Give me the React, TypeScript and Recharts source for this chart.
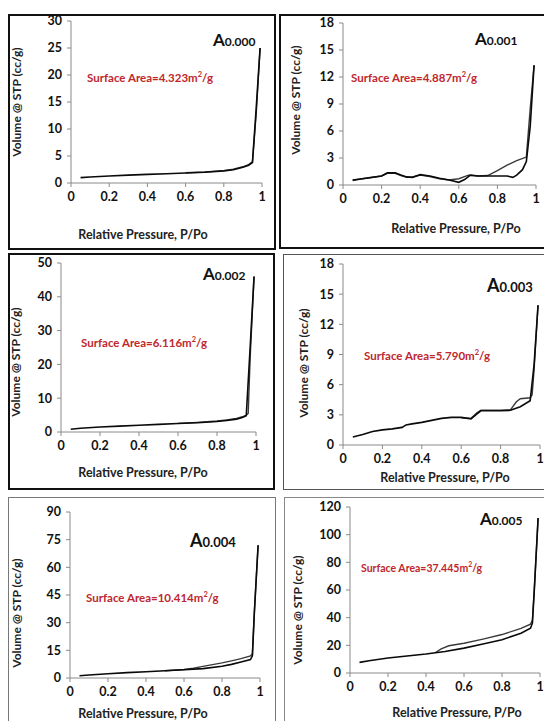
import React from 'react';
import { LineChart, Line, XAxis, YAxis } from 'recharts';

// ---------- data ----------
const xTicks = [0, 0.2, 0.4, 0.6, 0.8, 1];

const a000AdsX = [0.05, 0.1, 0.2, 0.3, 0.4, 0.5, 0.6, 0.7, 0.8, 0.85, 0.9, 0.93, 0.95, 0.97, 0.99];
const a000AdsY = [1.0, 1.1, 1.3, 1.45, 1.6, 1.7, 1.85, 2.0, 2.25, 2.45, 2.9, 3.3, 3.8, 14, 25];
const a000DesX = [0.6, 0.7, 0.8, 0.85, 0.9, 0.93, 0.95, 0.97, 0.99];
const a000DesY = [1.9, 2.05, 2.3, 2.55, 3.0, 3.4, 3.9, 13, 25];
const a000Ticks = [0, 5, 10, 15, 20, 25, 30];

const a001AdsX = [0.05, 0.1, 0.15, 0.2, 0.23, 0.27, 0.3, 0.33, 0.36, 0.4, 0.45, 0.5, 0.55, 0.6, 0.63, 0.66, 0.7, 0.75, 0.8, 0.85, 0.88, 0.9, 0.93, 0.95, 0.97, 0.99];
const a001AdsY = [0.55, 0.7, 0.85, 1.0, 1.35, 1.35, 1.1, 0.9, 0.85, 1.15, 1.0, 0.75, 0.55, 0.3, 0.6, 1.1, 1.0, 1.0, 1.0, 1.0, 0.85, 1.1, 1.7, 2.6, 6.5, 13.3];
const a001DesX = [0.05, 0.1, 0.15, 0.2, 0.23, 0.27, 0.3, 0.33, 0.36, 0.4, 0.45, 0.5, 0.55, 0.6, 0.65, 0.7, 0.75, 0.8, 0.85, 0.9, 0.95, 0.97, 0.99];
const a001DesY = [0.5, 0.7, 0.85, 1.0, 1.3, 1.3, 1.05, 0.85, 0.9, 1.1, 0.95, 0.7, 0.55, 0.7, 1.1, 1.0, 1.05, 1.6, 2.2, 2.7, 3.1, 8.5, 13.3];
const a001Ticks = [0, 3, 6, 9, 12, 15, 18];

const a002AdsX = [0.05, 0.1, 0.2, 0.3, 0.4, 0.5, 0.6, 0.7, 0.8, 0.85, 0.9, 0.93, 0.95, 0.97, 0.99];
const a002AdsY = [0.8, 1.1, 1.5, 1.75, 2.0, 2.25, 2.5, 2.75, 3.1, 3.4, 3.8, 4.3, 4.8, 25, 46];
const a002DesX = [0.6, 0.7, 0.8, 0.85, 0.9, 0.93, 0.95, 0.96, 0.97, 0.99];
const a002DesY = [2.55, 2.85, 3.25, 3.6, 4.0, 4.5, 5.0, 5.5, 22, 46];
const a002Ticks = [0, 10, 20, 30, 40, 50];

const a003AdsX = [0.05, 0.1, 0.15, 0.2, 0.25, 0.3, 0.32, 0.35, 0.4, 0.45, 0.5, 0.55, 0.6, 0.65, 0.68, 0.7, 0.75, 0.8, 0.85, 0.9, 0.95, 0.97, 0.99];
const a003AdsY = [0.8, 1.05, 1.35, 1.5, 1.6, 1.75, 2.0, 2.1, 2.25, 2.45, 2.65, 2.75, 2.75, 2.6, 3.1, 3.4, 3.4, 3.4, 3.45, 3.8, 4.4, 8.0, 13.9];
const a003DesX = [0.6, 0.65, 0.68, 0.7, 0.75, 0.8, 0.85, 0.88, 0.9, 0.95, 0.96, 0.97, 0.99];
const a003DesY = [2.7, 2.65, 3.2, 3.45, 3.45, 3.45, 3.5, 4.3, 4.6, 4.7, 5.0, 7.5, 13.9];
const a003Ticks = [0, 3, 6, 9, 12, 15, 18];

const a004AdsX = [0.05, 0.1, 0.2, 0.3, 0.4, 0.5, 0.6, 0.7, 0.8, 0.85, 0.9, 0.95, 0.96, 0.97, 0.99];
const a004AdsY = [1.2, 1.6, 2.3, 2.9, 3.4, 3.9, 4.5, 5.1, 6.4, 7.4, 8.7, 10, 12, 35, 72];
const a004DesX = [0.5, 0.6, 0.65, 0.7, 0.8, 0.85, 0.9, 0.95, 0.96, 0.97, 0.99];
const a004DesY = [3.9, 4.6, 5.3, 6.3, 8.2, 9.3, 10.5, 12, 13, 35, 72];
const a004Ticks = [0, 15, 30, 45, 60, 75, 90];

const a005AdsX = [0.05, 0.1, 0.2, 0.3, 0.4, 0.45, 0.5, 0.6, 0.7, 0.8, 0.9, 0.95, 0.96, 0.97, 0.99];
const a005AdsY = [7.7, 8.8, 10.8, 12.3, 13.7, 14.6, 15.6, 18, 20.9, 24, 28.8, 32.4, 36, 60, 112];
const a005DesX = [0.45, 0.48, 0.52, 0.6, 0.7, 0.8, 0.9, 0.95, 0.96, 0.97, 0.99];
const a005DesY = [14.8, 17.5, 19.7, 21.5, 24.5, 27.8, 32.2, 35.3, 38, 60, 112];
const a005Ticks = [0, 20, 40, 60, 80, 100, 120];

const sampleNames = ['0.000', '0.001', '0.002', '0.003', '0.004', '0.005'];
const surfaceAreas = ['4.323', '4.887', '6.116', '5.790', '10.414', '37.445'];
const xTitle = 'Relative Pressure, P/Po';
const yTitle = 'Volume @ STP (cc/g)';

const zip = (xs: number[], ys: number[]) => xs.map((x, i) => ({ x, y: ys[i] }));

// ---------- layout ----------
type Panel = {
  name: string; area: string;
  ads: { x: number; y: number }[]; des: { x: number; y: number }[];
  yTicks: number[];
  x0: number; x1: number; yTop: number; y0: number;
  xt: [number, number]; yt: [number, number];
  at: [number, number]; st: [number, number];
  aSize: number; sSize: number;
};

const panels: Panel[] = [
  { name: sampleNames[0], area: surfaceAreas[0], ads: zip(a000AdsX, a000AdsY), des: zip(a000DesX, a000DesY), yTicks: a000Ticks,
    x0: 71, x1: 262, yTop: 21, y0: 183, xt: [143, 235], yt: [17, 102], at: [213, 39], st: [87, 77], aSize: 15, sSize: 11.5 },
  { name: sampleNames[1], area: surfaceAreas[1], ads: zip(a001AdsX, a001AdsY), des: zip(a001DesX, a001DesY), yTicks: a001Ticks,
    x0: 343, x1: 536, yTop: 23, y0: 185, xt: [456, 229], yt: [296, 100], at: [475, 38], st: [351, 77], aSize: 15, sSize: 11.5 },
  { name: sampleNames[2], area: surfaceAreas[2], ads: zip(a002AdsX, a002AdsY), des: zip(a002DesX, a002DesY), yTicks: a002Ticks,
    x0: 61, x1: 256, yTop: 263, y0: 432, xt: [143, 473], yt: [16, 362], at: [203, 273], st: [81, 342], aSize: 15, sSize: 11.5 },
  { name: sampleNames[3], area: surfaceAreas[3], ads: zip(a003AdsX, a003AdsY), des: zip(a003DesX, a003DesY), yTicks: a003Ticks,
    x0: 343, x1: 540, yTop: 264, y0: 445, xt: [445, 478], yt: [304, 363], at: [487, 285], st: [364, 355], aSize: 16, sSize: 11.5 },
  { name: sampleNames[4], area: surfaceAreas[4], ads: zip(a004AdsX, a004AdsY), des: zip(a004DesX, a004DesY), yTicks: a004Ticks,
    x0: 70, x1: 260, yTop: 512, y0: 678, xt: [143, 714], yt: [17, 613], at: [190, 540], st: [86, 597], aSize: 16, sSize: 11.5 },
  { name: sampleNames[5], area: surfaceAreas[5], ads: zip(a005AdsX, a005AdsY), des: zip(a005DesX, a005DesY), yTicks: a005Ticks,
    x0: 350, x1: 540, yTop: 507, y0: 673, xt: [457, 713], yt: [298, 610], at: [480, 518], st: [361, 567], aSize: 15, sSize: 10.5 },
];

const FONT = 'Lato, "Open Sans", sans-serif';
const AX = '#8a8a8a';
const W = 40; // y-axis width
const H = 30; // x-axis height
const M = 12; // margin

function Chart({ p }: { p: Panel }) {
  const width = p.x1 - p.x0 + W + M * 2;
  const height = p.y0 - p.yTop + H + M * 2;
  const tick = { fill: '#111', fontSize: 12.5, fontWeight: 700, fontFamily: FONT };
  return (
    <div style={{ position: 'absolute', left: p.x0 - W - M, top: p.yTop - M }}>
      <LineChart width={width} height={height} data={p.ads} margin={{ top: M, right: M, bottom: M, left: M }}>
        <XAxis type="number" dataKey="x" domain={[0, 1]} ticks={xTicks} interval={0}
          tick={tick} tickSize={4} tickMargin={5} axisLine={{ stroke: AX }} tickLine={{ stroke: AX }}
          height={H} tickFormatter={(v: number) => String(v)} allowDataOverflow />
        <YAxis type="number" domain={[0, p.yTicks[p.yTicks.length - 1]]} ticks={p.yTicks} interval={0}
          tick={tick} tickSize={4} tickMargin={5} axisLine={{ stroke: AX }} tickLine={{ stroke: AX }}
          width={W} allowDataOverflow />
        <Line data={p.des} dataKey="y" type="linear" stroke="#3a3a3a" strokeWidth={1.4} dot={false} isAnimationActive={false} />
        <Line data={p.ads} dataKey="y" type="linear" stroke="#0a0a0a" strokeWidth={1.6} dot={false} isAnimationActive={false} />
      </LineChart>
    </div>
  );
}

function Texts({ p }: { p: Panel }) {
  return (
    <>
      <div style={{ position: 'absolute', left: p.xt[0], top: p.xt[1], transform: 'translate(-50%,-50%)',
        fontFamily: FONT, fontWeight: 700, fontSize: 12.5, color: '#222', whiteSpace: 'nowrap', lineHeight: 1 }}>{xTitle}</div>
      <div style={{ position: 'absolute', left: p.yt[0], top: p.yt[1], transform: 'translate(-50%,-50%) rotate(-90deg)',
        fontFamily: FONT, fontWeight: 700, fontSize: 12, color: '#222', whiteSpace: 'nowrap', lineHeight: 1 }}>{yTitle}</div>
      <div style={{ position: 'absolute', left: p.at[0], top: p.at[1], transform: 'translateY(-50%)',
        fontFamily: FONT, fontWeight: 700, color: '#111', whiteSpace: 'nowrap', lineHeight: 1 }}>
        <span style={{ fontSize: p.aSize + 2 }}>A</span><span style={{ fontSize: p.aSize - 3 }}>{p.name}</span>
      </div>
      <div style={{ position: 'absolute', left: p.st[0], top: p.st[1], transform: 'translateY(-50%)',
        fontFamily: FONT, fontWeight: 700, fontSize: p.sSize, color: '#c0272d', whiteSpace: 'nowrap', lineHeight: 1 }}>
        Surface Area={p.area}m<sup style={{ fontSize: '0.65em' }}>2</sup>/g
      </div>
    </>
  );
}

const frames = [
  { left: 8, top: 14, width: 268, height: 236, border: '2px solid #111' },
  { left: 279, top: 14, width: 280, height: 235, border: '2px solid #111' },
  { left: 8, top: 253, width: 267, height: 237, border: '2px solid #111' },
  { left: 283, top: 254, width: 280, height: 236, border: '1px solid #555' },
  { left: 8, top: 497, width: 268, height: 240, border: '1.5px solid #777' },
  { left: 284, top: 497, width: 280, height: 240, border: '1.5px solid #888' },
];

export default function App() {
  return (
    <div style={{ position: 'absolute', left: 0, top: 0, width: 544, height: 721, background: '#fff', overflow: 'hidden' }}>
      {frames.map((f, i) => (
        <div key={'f' + i} style={{ position: 'absolute', left: f.left, top: f.top, width: f.width, height: f.height,
          border: f.border, boxSizing: 'border-box' }} />
      ))}
      {panels.map((p, i) => (
        <React.Fragment key={i}>
          <Chart p={p} />
          <Texts p={p} />
        </React.Fragment>
      ))}
    </div>
  );
}
